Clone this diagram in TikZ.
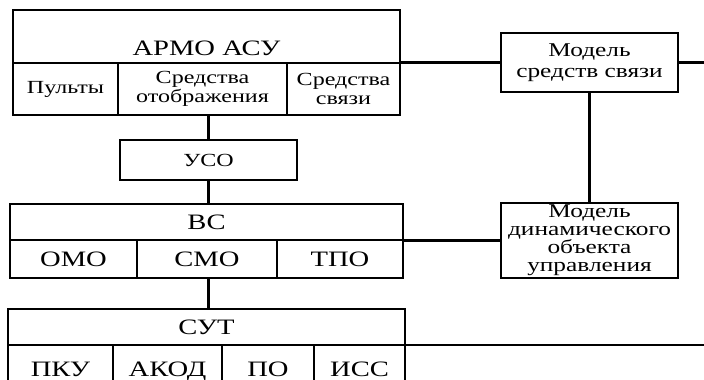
\documentclass[tikz,border=0pt]{standalone}
\usepackage{fontspec}
\setmainfont{Liberation Serif}[FakeStretch=1.3]
\usetikzlibrary{positioning}

\begin{document}
\begin{tikzpicture}[
    x=1pt, y=-1pt,
    cell/.style={
        draw,
        line width=1.5pt,
        inner sep=0pt,
        outer sep=0pt,
        anchor=north west,
        align=center,
    },
    frame/.style={draw, line width=2.4pt},
    link/.style={draw, line width=2.2pt},
    big/.style={font=\fontsize{22}{22}\selectfont, text height=15pt, text depth=1pt},
    small/.style={font=\fontsize{18.5}{19}\selectfont},
]
\useasboundingbox (0,0) rectangle (704,380);
\clip (0,0) rectangle (704,380);

% --- АРМО АСУ ---
\node[cell, big, minimum width=387pt, minimum height=53pt,
    text height=37pt, text depth=0pt] (armo) at (13,10) {АРМО АСУ};
\node[cell, small, minimum width=105pt, minimum height=52pt]
    (pult) at (armo.south west) {Пульты};
\node[cell, small, minimum width=169pt, minimum height=52pt, right=0pt of pult]
    (disp) {Средства\\отображения};
\node[cell, small, minimum width=113pt, minimum height=52pt, right=0pt of disp]
    (comm) {Средства\\связи};
\draw[frame] (armo.north west) rectangle (comm.south east);

% --- УСО ---
\node[cell, small, line width=2.2pt, minimum width=177pt, minimum height=40pt]
    (uso) at (120,140) {УСО};

% --- ВС ---
\node[cell, big, minimum width=393pt, minimum height=36pt] (vs) at (10,204) {ВС};
\node[cell, big, minimum width=127pt, minimum height=38pt]
    (omo) at (vs.south west) {ОМО};
\node[cell, big, minimum width=140pt, minimum height=38pt, right=0pt of omo]
    (smo) {СМО};
\node[cell, big, minimum width=126pt, minimum height=38pt, right=0pt of smo]
    (tpo) {ТПО};
\draw[frame] (vs.north west) rectangle (tpo.south east);

% --- СУТ ---
\node[cell, big, minimum width=397pt, minimum height=36pt] (sut) at (8,309) {СУТ};
\node[cell, big, minimum width=105pt, minimum height=48pt]
    (pku) at (sut.south west) {ПКУ};
\node[cell, big, minimum width=109pt, minimum height=48pt, right=0pt of pku]
    (akod) {АКОД};
\node[cell, big, minimum width=92pt, minimum height=48pt, right=0pt of akod]
    (po) {ПО};
\node[cell, big, minimum width=91pt, minimum height=48pt, right=0pt of po]
    (iss) {ИСС};
\draw[frame] (sut.north west) rectangle (iss.south east);

% --- Models ---
\node[cell, line width=2.2pt, minimum width=177pt, minimum height=59pt,
    font=\fontsize{19.5}{21}\selectfont]
    (mcs) at (501,33) {Модель\\средств связи};
\node[cell, line width=2.2pt, minimum width=177pt, minimum height=75pt,
    font=\fontsize{19.5}{18}\selectfont]
    (mdo) at (501,203) {Модель\\динамического\\объекта\\управления};

% right edge of the picture
\coordinate (edge) at (704,0);

% --- Links ---
\draw[link] (uso.north |- comm.south) -- (uso.north);
\draw[link] (uso.south) -- (uso.south |- vs.north);
\draw[link] (uso.south |- tpo.south) -- (uso.south |- sut.north);
\draw[link] (mcs.west -| armo.east) -- (mcs.west);
\draw[link] (mcs.east) -- (mcs.east -| edge);
\draw[link] (mcs.south) -- (mdo.north);
\draw[link] (mdo.west -| vs.east) -- (mdo.west);
\draw[link] (iss.north east) -- (iss.north east -| edge);

\end{tikzpicture}
\end{document}
